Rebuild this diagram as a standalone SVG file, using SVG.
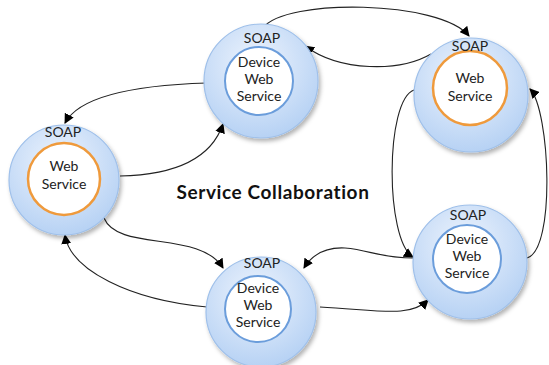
<svg xmlns="http://www.w3.org/2000/svg" width="549" height="365" viewBox="0 0 549 365">
  <defs>
    <radialGradient id="ringFill" cx="0.45" cy="0.35" r="0.65">
      <stop offset="0" stop-color="#eef4fd"/>
      <stop offset="1" stop-color="#b7d2f4"/>
    </radialGradient>
    <filter id="shadow" x="-20%" y="-20%" width="150%" height="150%">
      <feDropShadow dx="2" dy="3" stdDeviation="2" flood-color="#000" flood-opacity="0.3"/>
    </filter>
    <marker id="arrow" viewBox="0 0 10 10" refX="9" refY="5" markerWidth="10" markerHeight="10" orient="auto" markerUnits="userSpaceOnUse">
      <path d="M0,0 L10,5 L0,10 z" fill="#000"/>
    </marker>
    <style>
      .ring { fill: url(#ringFill); stroke: #9fc0ea; stroke-width: 1.2; filter: url(#shadow); }
      .core { fill: #fff; stroke: #6b9ddb; stroke-width: 2; }
      .core-web { fill: #fff; stroke: #ef9a3c; stroke-width: 2.5; }
      .soap { font-family: "Lato", "Liberation Sans", sans-serif; font-size: 14px; fill: #222; text-anchor: middle; }
      .label { font-family: "Lato", "Liberation Sans", sans-serif; font-size: 14px; fill: #222; text-anchor: middle; }
      .title { font-family: "Lato", "Liberation Sans", sans-serif; font-size: 19px; font-weight: bold; letter-spacing: 0.6px; fill: #111; text-anchor: middle; }
      .link { fill: none; stroke: #222; stroke-width: 1.1; marker-end: url(#arrow); }
    </style>
  </defs>

  <rect width="549" height="365" fill="#fff"/>

  <g id="connectors">
    <path class="link" d="M263,28 C285,-2 440,0 469,36"/>
    <path class="link" d="M431,54 C400,72 340,72 305,46"/>
    <path class="link" d="M207,83 C140,85 80,95 65,123"/>
    <path class="link" d="M120,176 C170,175 210,162 223,124"/>
    <path class="link" d="M104,218 C118,252 200,230 223,268"/>
    <path class="link" d="M207,307 C130,300 70,270 65,235"/>
    <path class="link" d="M413,258 C380,258 370,250 345,248 C325,247 312,255 304,268"/>
    <path class="link" d="M320,307 C380,310 410,318 428,300"/>
    <path class="link" d="M414,90 C385,100 385,240 413,257"/>
    <path class="link" d="M527,258 C556,250 550,110 530,89"/>
  </g>

  <g id="node-device-top">
    <circle class="ring" cx="261" cy="81" r="57"/>
    <circle class="core" cx="259" cy="81" r="34"/>
    <text class="soap" x="262" y="43">SOAP</text>
    <text class="label" x="259" y="67">Device</text>
    <text class="label" x="259" y="84">Web</text>
    <text class="label" x="259" y="101">Service</text>
  </g>

  <g id="node-web-right">
    <circle class="ring" cx="471" cy="95" r="57"/>
    <circle class="core-web" cx="470" cy="88" r="37"/>
    <text class="soap" x="470" y="51">SOAP</text>
    <text class="label" x="470" y="83">Web</text>
    <text class="label" x="470" y="101">Service</text>
  </g>

  <g id="node-web-left">
    <circle class="ring" cx="64" cy="180" r="55"/>
    <circle class="core-web" cx="64" cy="179" r="36"/>
    <text class="soap" x="63" y="137">SOAP</text>
    <text class="label" x="64" y="171">Web</text>
    <text class="label" x="64" y="189">Service</text>
  </g>

  <g id="node-device-bottom">
    <circle class="ring" cx="261" cy="312" r="55"/>
    <circle class="core" cx="258" cy="309" r="33"/>
    <text class="soap" x="262" y="268">SOAP</text>
    <text class="label" x="258" y="293">Device</text>
    <text class="label" x="258" y="310">Web</text>
    <text class="label" x="258" y="327">Service</text>
  </g>

  <g id="node-device-right">
    <circle class="ring" cx="470" cy="262" r="57"/>
    <circle class="core" cx="467" cy="259" r="34"/>
    <text class="soap" x="468" y="220">SOAP</text>
    <text class="label" x="467" y="244">Device</text>
    <text class="label" x="467" y="261">Web</text>
    <text class="label" x="467" y="278">Service</text>
  </g>

  <text class="title" x="273" y="199">Service Collaboration</text>
</svg>
